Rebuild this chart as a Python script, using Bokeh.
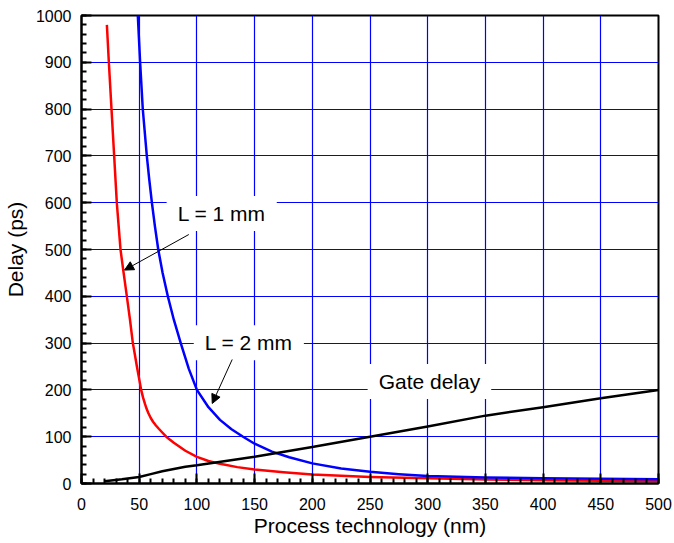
from bokeh.plotting import figure
from bokeh.embed import file_html
from bokeh.resources import INLINE
from bokeh.models import Range1d, SingleIntervalTicker, Label, Arrow, NormalHead

# ---- data ----
red_x = [22, 23.7, 26, 28.3, 30.6, 32.2, 33.8, 36.5, 39.3, 42, 44.5, 46.2, 48, 50, 51.7, 53.3, 55,
         56.5, 58, 60, 62, 64.5, 67, 70, 73.4, 80, 90, 100, 110, 120, 135, 150, 175, 200, 250,
         300, 350, 400, 450, 500]
red_y = [980, 900, 800, 700, 600, 550, 500, 450, 400, 350, 300, 276, 250, 223, 200, 184, 170,
         159, 150, 140, 132, 124, 117, 109, 100, 87, 70, 57, 48, 42, 35, 30, 24, 19, 14,
         11, 8.5, 7, 6, 5]

blue_x = [48.8, 50.8, 53.1, 56.6, 58.7, 61, 63.6, 66.5, 70.3, 74.8, 80, 86, 93, 100, 110, 120, 130,
          140, 150, 165, 180, 200, 225, 250, 275, 300, 350, 400, 450, 500]
blue_y = [1000, 900, 800, 700, 650, 600, 550, 500, 450, 400, 350, 300, 245, 200, 163, 136, 116,
          100, 85, 68, 56, 43, 32, 25, 20, 16, 13, 11, 10, 9]

gate_x = [20, 35, 50, 60, 70, 80, 90, 100, 150, 200, 250, 300, 350, 400, 450, 500]
gate_y = [5, 9, 14, 20, 26, 31, 36, 39, 57, 78, 100, 122, 145, 163, 182, 200]

x_tick_interval = 50
y_tick_interval = 100

FONT = "Liberation Sans"

p = figure(width=666, height=542, frame_width=577, frame_height=468,
           output_backend="svg", toolbar_location=None,
           x_range=Range1d(0, 500), y_range=Range1d(0, 1000),
           min_border_left=74, min_border_right=15, min_border_top=15, min_border_bottom=59)

p.background_fill_color = "white"
p.border_fill_color = "white"
p.outline_line_color = "black"
p.outline_line_width = 2

p.xaxis.ticker = SingleIntervalTicker(interval=x_tick_interval, num_minor_ticks=5)
p.yaxis.ticker = SingleIntervalTicker(interval=y_tick_interval, num_minor_ticks=5)

for ax in (p.xaxis[0], p.yaxis[0]):
    ax.axis_line_color = "black"
    ax.axis_line_width = 2
    ax.major_tick_in = 10
    ax.major_tick_out = 0
    ax.minor_tick_in = 5
    ax.minor_tick_out = 0
    ax.major_tick_line_color = "black"
    ax.minor_tick_line_color = "black"
    ax.major_tick_line_width = 2
    ax.minor_tick_line_width = 2
    ax.major_label_text_font = FONT
    ax.major_label_text_font_size = "16px"
    ax.major_label_text_color = "black"
    ax.axis_label_text_font = FONT
    ax.axis_label_text_font_size = "21px"
    ax.axis_label_text_font_style = "normal"
    ax.axis_label_text_color = "black"

p.xaxis.axis_label = "Process technology (nm)"
p.yaxis.axis_label = "Delay (ps)"
p.xaxis.major_label_standoff = 14
p.yaxis.major_label_standoff = 10
p.xaxis.axis_label_standoff = 1
p.yaxis.axis_label_standoff = 6

p.xgrid.grid_line_color = "#0000FF"
p.ygrid.grid_line_color = "#0000FF"
p.xgrid.grid_line_width = 1.2
p.ygrid.grid_line_width = 1.2

p.line(red_x, red_y, line_color="#FF0000", line_width=2.5, line_join="round")
p.line(blue_x, blue_y, line_color="#0000FF", line_width=2.5, line_join="round")
p.line(gate_x, gate_y, line_color="black", line_width=2.5, line_join="round")

# annotations
for (tx, ty, txt) in [(121.5, 577, "L = 1 mm"), (145, 301, "L = 2 mm"), (301.5, 218, "Gate delay")]:
    p.add_layout(Label(x=tx, y=ty, text=txt, text_align="center", text_baseline="middle",
                       text_font=FONT, text_font_size="21px", text_color="black",
                       background_fill_color="white", background_fill_alpha=1.0,
                       padding=(11, 6)))

p.add_layout(Arrow(x_start=93, y_start=532, x_end=37.3, y_end=456, line_width=1, line_color="black",
                   end=NormalHead(size=9, fill_color="black", line_color="black", line_width=1)))
p.add_layout(Arrow(x_start=130.6, y_start=265, x_end=113.3, y_end=171, line_width=1, line_color="black",
                   end=NormalHead(size=9, fill_color="black", line_color="black", line_width=1)))

open("out.html", "w").write(file_html(p, INLINE))
